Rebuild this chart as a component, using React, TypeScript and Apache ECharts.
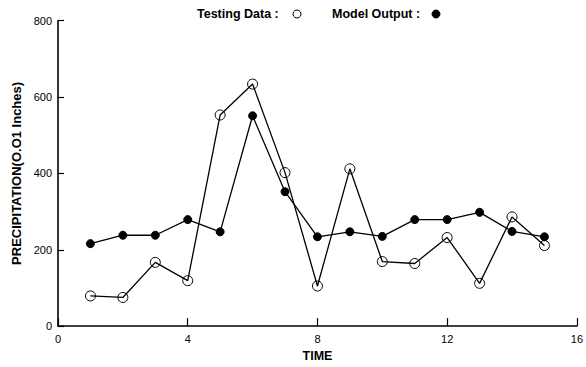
import React, { useEffect, useRef } from "react";
import * as echarts from "echarts";

const timeSteps = [1, 2, 3, 4, 5, 6, 7, 8, 9, 10, 11, 12, 13, 14, 15];
const testingData = [79, 75, 167, 119, 553, 634, 402, 105, 412, 169, 164, 232, 112, 286, 211];
const modelOutput = [216, 238, 238, 279, 247, 551, 352, 234, 247, 235, 279, 279, 298, 248, 234];
const xTicks = [0, 4, 8, 12, 16];
const yTicks = [0, 200, 400, 600, 800];

const FONT = "Liberation Sans, Arial, Helvetica, sans-serif";

export default function App() {
  const ref = useRef<HTMLDivElement>(null);
  useEffect(() => {
    if (!ref.current) return;
    const chart = echarts.init(ref.current, undefined, { renderer: "svg" });
    const pairs = (vals: number[]) => timeSteps.map((t, i) => [t, vals[i]]);
    chart.setOption({
      animation: false,
      backgroundColor: "#fff",
      textStyle: { fontFamily: FONT, color: "#000" },
      grid: { left: 58, right: 3, top: 20.7, bottom: 32.5 },
      xAxis: {
        type: "value",
        min: xTicks[0],
        max: xTicks[xTicks.length - 1],
        interval: 4,
        name: "TIME",
        nameLocation: "middle",
        nameGap: 19,
        nameTextStyle: { fontFamily: FONT, fontWeight: "bold", fontSize: 12.5, color: "#000" },
        axisLine: { show: true, lineStyle: { color: "#000", width: 1.6 } },
        axisTick: { show: true, inside: true, length: 8, lineStyle: { color: "#000", width: 1.2 } },
        axisLabel: { fontFamily: FONT, fontSize: 11, color: "#000", margin: 7 },
        splitLine: { show: false },
      },
      yAxis: {
        type: "value",
        min: yTicks[0],
        max: yTicks[yTicks.length - 1],
        interval: 200,
        name: "PRECIPITATION(O.O1 Inches)",
        nameLocation: "middle",
        nameGap: 31,
        nameTextStyle: { fontFamily: FONT, fontWeight: "bold", fontSize: 13, color: "#000" },
        axisLine: { show: true, lineStyle: { color: "#000", width: 1.6 } },
        axisTick: { show: true, inside: true, length: 6, lineStyle: { color: "#000", width: 1.2 } },
        axisLabel: { fontFamily: FONT, fontSize: 11, color: "#000", margin: 6 },
        splitLine: { show: false },
      },
      graphic: [
        {
          type: "text",
          left: 197,
          top: 7,
          style: { text: "Testing Data :", font: `bold 12.5px ${FONT}`, fill: "#000" },
        },
        {
          type: "circle",
          shape: { cx: 297, cy: 14, r: 4 },
          style: { fill: "#fff", stroke: "#000", lineWidth: 1 },
        },
        {
          type: "text",
          left: 332,
          top: 7,
          style: { text: "Model Output :", font: `bold 12.5px ${FONT}`, fill: "#000" },
        },
        {
          type: "circle",
          shape: { cx: 436, cy: 14, r: 4 },
          style: { fill: "#000", stroke: "#000", lineWidth: 1 },
        },
      ],
      series: [
        {
          name: "Testing Data",
          type: "line",
          data: pairs(testingData),
          symbol: "circle",
          symbolSize: 10,
          clip: false,
          lineStyle: { color: "#000", width: 1.3 },
          itemStyle: { color: "rgba(255,255,255,0)", borderColor: "#000", borderWidth: 1 },
          z: 3,
        },
        {
          name: "Model Output",
          type: "line",
          data: pairs(modelOutput),
          symbol: "circle",
          symbolSize: 8,
          clip: false,
          lineStyle: { color: "#000", width: 1.3 },
          itemStyle: { color: "#000", borderColor: "#000", borderWidth: 1 },
          z: 2,
        },
      ],
    });
    return () => chart.dispose();
  }, []);
  return (
    <div
      ref={ref}
      style={{ position: "fixed", left: 0, top: 0, width: 586, height: 367, background: "#fff" }}
    />
  );
}
